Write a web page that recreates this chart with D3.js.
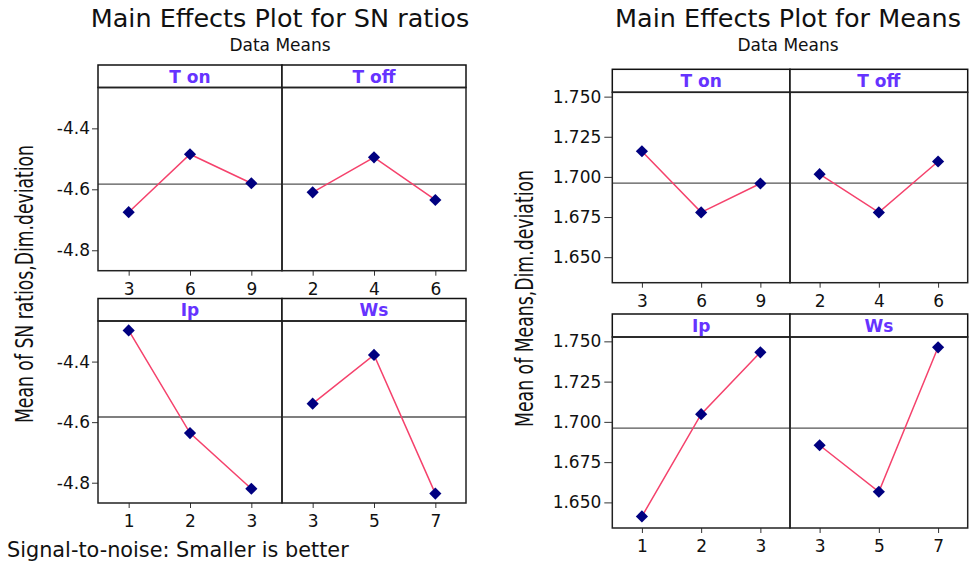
<!DOCTYPE html>
<html>
<head>
<meta charset="utf-8">
<script src="https://cdn.jsdelivr.net/npm/d3@7"></script>
<style>
  body { margin: 0; background: #fff; }
  svg text { font-family: "DejaVu Sans", Verdana, sans-serif; fill: #111; }
</style>
</head>
<body>
<svg id="chart" width="970" height="564"></svg>
<script>
// factors and their levels
const factors = ["T on", "T off", "Ip", "Ws"];
const levelsTon = [3, 6, 9];
const levelsToff = [2, 4, 6];
const levelsIp = [1, 2, 3];
const levelsWs = [3, 5, 7];

// mean of SN ratios per level
const snTon = [-4.675, -4.485, -4.580];
const snToff = [-4.610, -4.495, -4.635];
const snIp = [-4.297, -4.636, -4.820];
const snWs = [-4.539, -4.378, -4.836];

// mean of means per level
const meanTon = [1.7160, 1.6779, 1.6959];
const meanToff = [1.7017, 1.6779, 1.7096];
const meanIp = [1.6413, 1.7048, 1.7432];
const meanWs = [1.6855, 1.6566, 1.7463];

const snTicks = [-4.8, -4.6, -4.4];
const meanTicks = [1.650, 1.675, 1.700, 1.725, 1.750];
const snGrandMean = -4.583;
const meanGrandMean = 1.6961;

const levels = [levelsTon, levelsToff, levelsIp, levelsWs];
const snValues = [snTon, snToff, snIp, snWs];
const meanValues = [meanTon, meanToff, meanIp, meanWs];

const svg = d3.select("#chart");
const lineColour = "#f5426c";
const markColour = "#000080";

function mainEffects(opt) {
  const g = svg.append("g");

  g.append("text")
    .attr("x", opt.titleX).attr("y", 27)
    .attr("text-anchor", "middle")
    .style("font-size", "25.5px")
    .text(opt.title);
  g.append("text")
    .attr("x", opt.titleX).attr("y", 51)
    .attr("text-anchor", "middle")
    .style("font-size", "17px")
    .text("Data Means");

  // y label, tall narrow font
  g.append("text")
    .attr("transform", `translate(${opt.labelX},${opt.labelY}) rotate(-90)`)
    .attr("text-anchor", "middle")
    .attr("textLength", opt.labelLen)
    .attr("lengthAdjust", "spacingAndGlyphs")
    .style("font-family", "'Liberation Sans Narrow','DejaVu Sans Condensed',sans-serif")
    .style("font-size", "24px")
    .text(opt.yLabel);

  factors.forEach((f, i) => {
    const col = i % 2;
    const row = Math.floor(i / 2);
    const x0 = opt.left + col * opt.panelW;
    const top = opt.rowTop[row];
    const y0 = top + opt.stripH;
    const y1 = opt.rowBottom[row];

    const x = d3.scalePoint()
      .domain(levels[i])
      .range([x0, x0 + opt.panelW])
      .padding(0.5);
    const y = d3.scaleLinear().domain(opt.yDomain).range([y1, y0]);

    const p = g.append("g");

    // strip
    p.append("rect")
      .attr("x", x0).attr("y", top)
      .attr("width", opt.panelW).attr("height", opt.stripH)
      .attr("fill", "#fff")
      .attr("stroke", "#111").attr("stroke-width", 1.5);
    p.append("text")
      .attr("x", x0 + opt.panelW / 2).attr("y", y0 - 5)
      .attr("text-anchor", "middle")
      .style("font-size", "17px")
      .style("font-weight", "bold")
      .style("fill", "#6633ff")
      .text(f);

    // reference line at the overall mean
    p.append("line")
      .attr("x1", x0).attr("x2", x0 + opt.panelW)
      .attr("y1", y(opt.grandMean)).attr("y2", y(opt.grandMean))
      .attr("stroke", "#555").attr("stroke-width", 1.3);

    // x axis
    const xa = p.append("g")
      .attr("transform", `translate(0,${y1})`)
      .call(d3.axisBottom(x).tickSize(5).tickPadding(7));
    xa.select(".domain").remove();
    xa.selectAll("line").attr("stroke", "#333");
    xa.selectAll("text").style("font-size", "17px");

    if (col === 0) {
      const ya = p.append("g")
        .attr("transform", `translate(${x0},0)`)
        .call(d3.axisLeft(y).tickValues(opt.yTicks)
          .tickSize(opt.yTickSize).tickPadding(opt.yPad)
          .tickFormat(d => d.toFixed(opt.digits)));
      ya.select(".domain").remove();
      ya.selectAll("line").attr("stroke", "#333");
      ya.selectAll("text").style("font-size", "17px");
    }

    // plot border
    p.append("rect")
      .attr("x", x0).attr("y", y0)
      .attr("width", opt.panelW).attr("height", y1 - y0)
      .attr("fill", "none")
      .attr("stroke", "#222").attr("stroke-width", 1.5);

    const pts = levels[i].map((lv, k) => ({ lv, v: opt.values[i][k] }));
    p.append("path")
      .datum(pts)
      .attr("fill", "none")
      .attr("stroke", lineColour)
      .attr("stroke-width", 1.5)
      .attr("d", d3.line().x(d => x(d.lv)).y(d => y(d.v)));

    p.selectAll(".mark")
      .data(pts)
      .enter()
      .append("path")
      .attr("class", "mark")
      .attr("transform", d => `translate(${x(d.lv)},${y(d.v)}) rotate(45)`)
      .attr("d", d3.symbol().type(d3.symbolSquare).size(74))
      .attr("fill", markColour);
  });
}

mainEffects({
  title: "Main Effects Plot for SN ratios",
  titleX: 280,
  yLabel: "Mean of SN ratios,Dim.deviation",
  labelX: 33, labelY: 284, labelLen: 278,
  left: 98, panelW: 184,
  rowTop: [65, 298.5], rowBottom: [270.7, 503], stripH: 22.5,
  yDomain: [-4.867, -4.266],
  yTicks: snTicks, digits: 1, yTickSize: 6, yPad: 2,
  grandMean: snGrandMean,
  values: snValues
});

mainEffects({
  title: "Main Effects Plot for Means",
  titleX: 788,
  yLabel: "Mean of Means,Dim.deviation",
  labelX: 533, labelY: 298.5, labelLen: 257,
  left: 612.3, panelW: 177.7,
  rowTop: [69.3, 314], rowBottom: [282.7, 528], stripH: 23,
  yDomain: [1.6341, 1.7527],
  yTicks: meanTicks, digits: 3, yTickSize: 8, yPad: 3,
  grandMean: meanGrandMean,
  values: meanValues
});

svg.append("text")
  .attr("x", 7).attr("y", 557)
  .style("font-size", "20.8px")
  .text("Signal-to-noise: Smaller is better");
</script>
</body>
</html>
